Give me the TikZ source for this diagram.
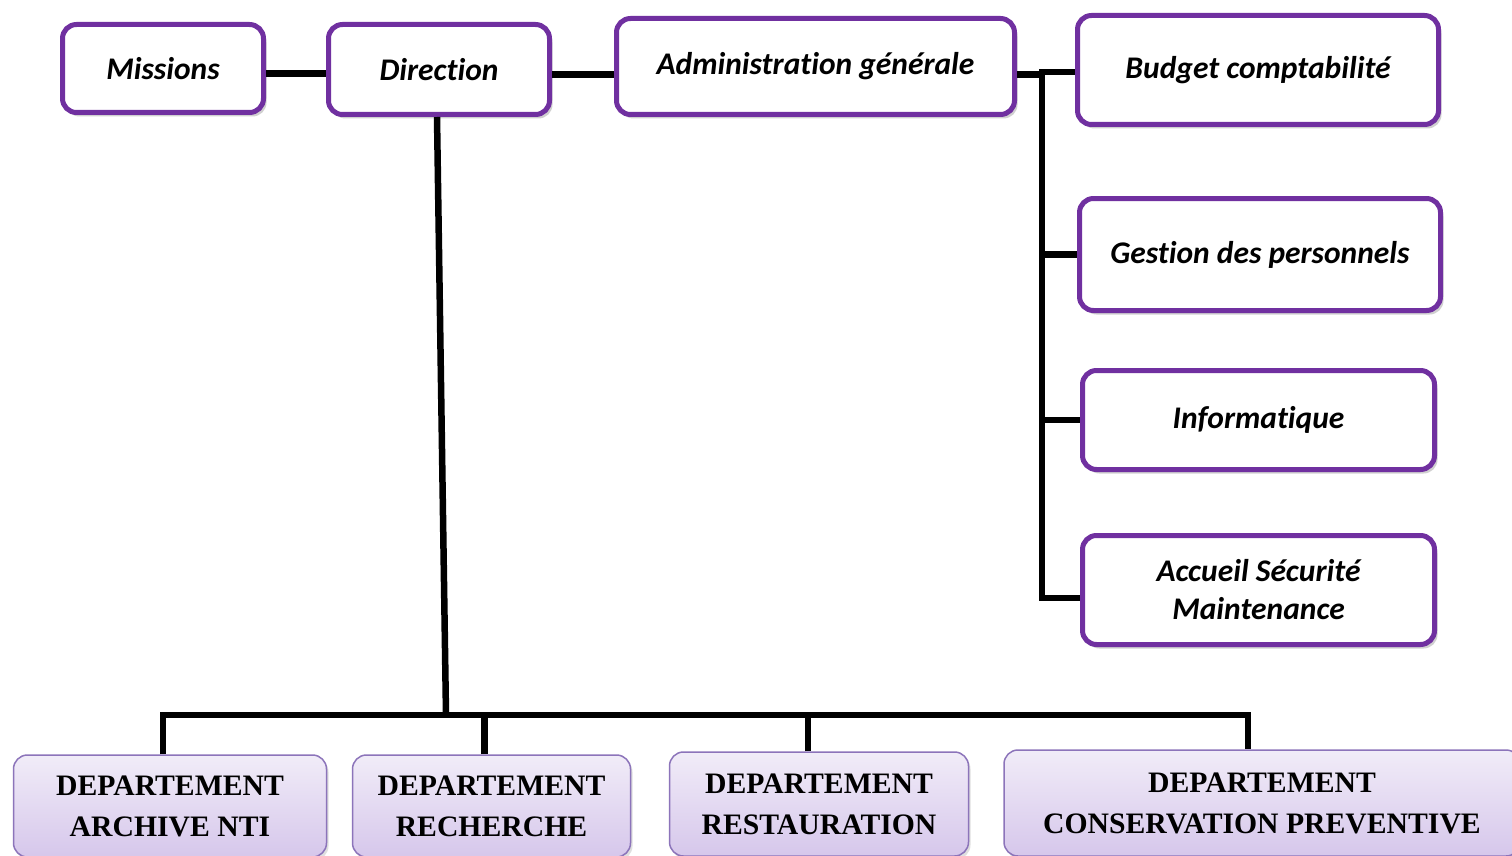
\documentclass[tikz,border=0pt]{standalone}
\usepackage{fontspec}
\usepackage{xcolor}
\usetikzlibrary{shadows}
\newfontfamily\boxfont[Ligatures=NoCommon]{Carlito}
\newfontfamily\deptfont{Liberation Serif}
\definecolor{servicestroke}{HTML}{7030A0}
\definecolor{depttop}{HTML}{F1ECF8}
\definecolor{deptbottom}{HTML}{D6C7EB}
\definecolor{deptstroke}{HTML}{8C74BA}

\begin{document}
\begin{tikzpicture}[
  x=1pt,
  y=-1pt,
  every node/.style={
    rectangle,
    align=center,
    inner sep=2pt
  },
  link/.style={
    draw=black,
    line width=6.5pt
  },
  service/.style={
    draw=servicestroke,
    fill=white,
    line width=5pt,
    rounded corners=14pt,
    font=\boxfont\bfseries\itshape\fontsize{31.5}{38}\selectfont,
    drop shadow={shadow xshift=3pt, shadow yshift=-4pt, opacity=.3, fill=black!60}
  },
  dept/.style={
    draw=deptstroke,
    top color=depttop,
    bottom color=deptbottom,
    line width=1.5pt,
    rounded corners=14pt,
    font=\deptfont\bfseries\fontsize{29.7}{41}\selectfont,
    drop shadow={shadow xshift=2pt, shadow yshift=-3pt, opacity=.25, fill=black!50}
  }
]

\fill[white] (0,0) rectangle (1512,856);
\useasboundingbox (0,0) rectangle (1512,856);
\clip (0,0) rectangle (1512,856);

% Top row
\node[service, minimum width=201, minimum height=88] (missions) at (163,68.5) {Missions};
\node[service, minimum width=221, minimum height=90] (direction) at (439,69.5) {Direction};
\node[service, minimum width=398, minimum height=96] (admin) at (815.5,66.5) {Administration générale};

% Services under the administration
\node[service, minimum width=361, minimum height=109] (budget)  at (1258,70)    {Budget comptabilité};
\node[service, minimum width=361, minimum height=112] (gestion) at (1260,254.5) {Gestion des personnels};
\node[service, minimum width=352, minimum height=99]  (info)    at (1258.5,420) {Informatique};
\node[service, minimum width=352, minimum height=109] (accueil) at (1258.5,590) {Accueil Sécurité\\Maintenance};

% Departments
\node[dept, minimum width=313, minimum height=102] (archive)      at (170,806)   {DEPARTEMENT\\ARCHIVE NTI};
\node[dept, minimum width=278, minimum height=102] (recherche)    at (491.5,806) {DEPARTEMENT\\RECHERCHE};
\node[dept, minimum width=299, minimum height=104] (restauration) at (819,804)   {DEPARTEMENT\\RESTAURATION};
\node[dept, minimum width=516, minimum height=106] (conservation) at (1262,803)  {DEPARTEMENT\\CONSERVATION PREVENTIVE};

\coordinate (hub)     at (446,715);
\coordinate (rbus)    at (1042,72);
\coordinate (abranch) at (1042,598);

% Top row links
\draw[link] ([yshift=-5]missions.east) -- ([yshift=-5]missions.east -| direction.west);
\draw[link] ([yshift=-5]direction.east) -- ([yshift=-5]direction.east -| admin.west);
\draw[link] ([yshift=-8]admin.east) -- ([yshift=-8]admin.east -| rbus);

% Administration bus
\draw[link] (budget.west |- rbus) -- (rbus) -- (abranch) -- (abranch -| accueil.west);
\draw[link] (rbus |- gestion.west) -- (gestion.west);
\draw[link] (rbus |- info.west) -- (info.west);

% Department bus
\draw[link] ([xshift=-2]direction.south) -- (hub);
\draw[link] ([xshift=-7]archive.north) |- (hub) -| ([xshift=-14]conservation.north);
\draw[link] ([xshift=-7]recherche.north) -- ([xshift=-7]recherche.north |- hub);
\draw[link] ([xshift=-11]restauration.north) -- ([xshift=-11]restauration.north |- hub);

\end{tikzpicture}
\end{document}
